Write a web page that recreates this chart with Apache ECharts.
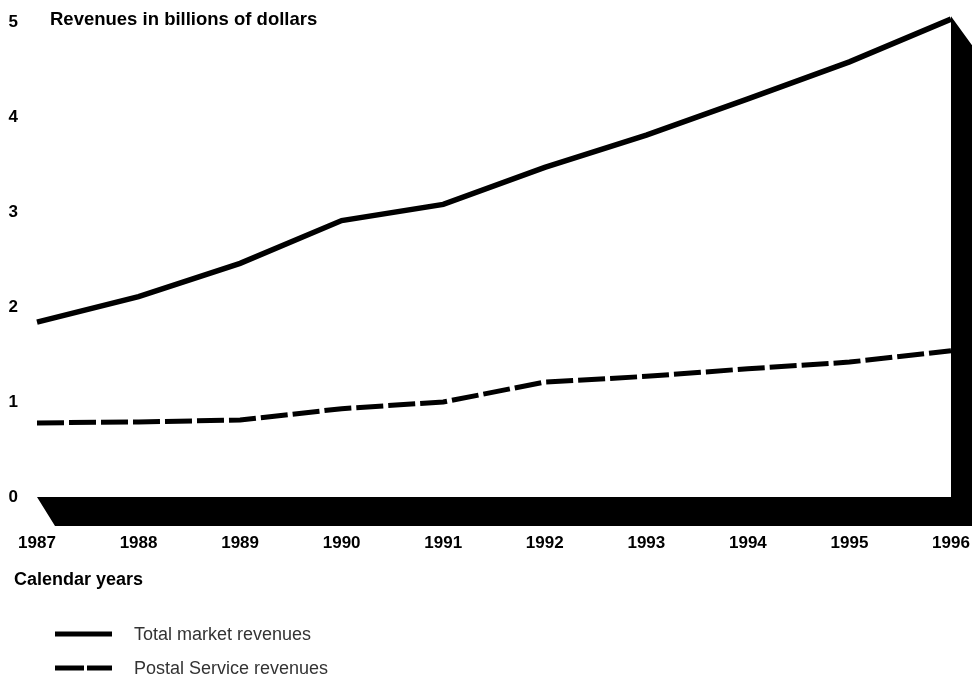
<!DOCTYPE html>
<html>
<head>
<meta charset="utf-8">
<script src="https://cdn.jsdelivr.net/npm/echarts@6/dist/echarts.min.js"></script>
<style>
  html, body { margin: 0; padding: 0; background: #ffffff; }
  #chart { width: 975px; height: 677px; }
</style>
</head>
<body>
<div id="chart"></div>
<script>
// Calendar years on the horizontal axis
const years = ['1987', '1988', '1989', '1990', '1991', '1992', '1993', '1994', '1995', '1996'];

// Revenues in billions of dollars
const totalMarketRevenues = [1.84, 2.11, 2.46, 2.91, 3.08, 3.47, 3.81, 4.19, 4.58, 5.03];
const postalServiceRevenues = [0.78, 0.79, 0.81, 0.93, 1.00, 1.21, 1.27, 1.35, 1.42, 1.54];

// Value axis ticks
const yTicks = [0, 1, 2, 3, 4, 5];

const FONT = '"Liberation Sans", Arial, Helvetica, sans-serif';

const chart = echarts.init(document.getElementById('chart'), null, { renderer: 'canvas' });

const legendBase = {
  left: 55,
  itemWidth: 57, itemHeight: 14,
  padding: 0,
  icon: 'none',
  selectedMode: false,
  textStyle: { fontFamily: FONT, fontSize: 18, color: '#333', padding: [0, 0, 0, 17] }
};

const option = {
  backgroundColor: '#ffffff',
  animation: false,
  textStyle: { fontFamily: FONT },
  title: [
    {
      text: 'Revenues in billions of dollars',
      left: 50, top: 10, padding: 0,
      textStyle: { fontFamily: FONT, fontSize: 18.5, fontWeight: 'bold', color: '#000' }
    },
    {
      text: 'Calendar years',
      left: 14, top: 571, padding: 0,
      textStyle: { fontFamily: FONT, fontSize: 18, fontWeight: 'bold', color: '#000' }
    }
  ],
  legend: [
    Object.assign({}, legendBase, { top: 626, data: ['Total market revenues'] }),
    Object.assign({}, legendBase, { top: 660, data: ['Postal Service revenues'] })
  ],
  grid: { left: 37, right: 24, top: 22, bottom: 180, containLabel: false },
  xAxis: {
    type: 'category',
    data: years,
    boundaryGap: false,
    axisLine: { show: false },
    axisTick: { show: false },
    splitLine: { show: false },
    axisLabel: {
      margin: 38,
      fontFamily: FONT, fontSize: 17, fontWeight: 'bold', color: '#000'
    }
  },
  yAxis: {
    type: 'value',
    min: yTicks[0], max: yTicks[yTicks.length - 1], interval: 1,
    axisLine: { show: false },
    axisTick: { show: false },
    splitLine: { show: false },
    axisLabel: {
      margin: 19,
      fontFamily: FONT, fontSize: 17, fontWeight: 'bold', color: '#000',
      formatter: v => (yTicks.indexOf(v) >= 0 ? String(v) : '')
    }
  },
  series: [
    {
      name: 'Total market revenues',
      type: 'line',
      data: totalMarketRevenues,
      symbol: 'none',
      clip: false,
      z: 5,
      lineStyle: { color: '#000', width: 5.5, cap: 'butt', join: 'miter' },
      itemStyle: { color: '#000' }
    },
    {
      name: 'Postal Service revenues',
      type: 'line',
      data: postalServiceRevenues,
      symbol: 'none',
      clip: false,
      z: 5,
      lineStyle: { color: '#000', width: 5, type: [27, 5], cap: 'butt', join: 'miter' },
      itemStyle: { color: '#000' }
    }
  ]
};

chart.setOption(option);

// Solid black floor and right wall, placed from the axis scales
const first = chart.convertToPixel({ gridIndex: 0 }, [0, 0]);
const last = chart.convertToPixel({ gridIndex: 0 }, [years.length - 1, 0]);
const peak = chart.convertToPixel({ gridIndex: 0 }, [years.length - 1, totalMarketRevenues[totalMarketRevenues.length - 1]]);
const depthX = 21, depthY = 29, skewLeft = 18;
const topY = peak[1] - 3;

chart.setOption({
  graphic: [
    {
      type: 'polygon',
      z: 1,
      shape: {
        points: [
          [first[0], first[1]],
          [last[0], last[1]],
          [last[0], topY],
          [last[0] + depthX, topY + depthY],
          [last[0] + depthX, last[1] + depthY],
          [first[0] + skewLeft, first[1] + depthY]
        ]
      },
      style: { fill: '#000' }
    },
    // legend line samples
    {
      type: 'line', z: 1,
      shape: { x1: 55, y1: 634, x2: 112, y2: 634 },
      style: { stroke: '#000', lineWidth: 5 }
    },
    {
      type: 'line', z: 1,
      shape: { x1: 55, y1: 668, x2: 112, y2: 668 },
      style: { stroke: '#000', lineWidth: 5, lineDash: [29, 3] }
    }
  ]
});
</script>
</body>
</html>
